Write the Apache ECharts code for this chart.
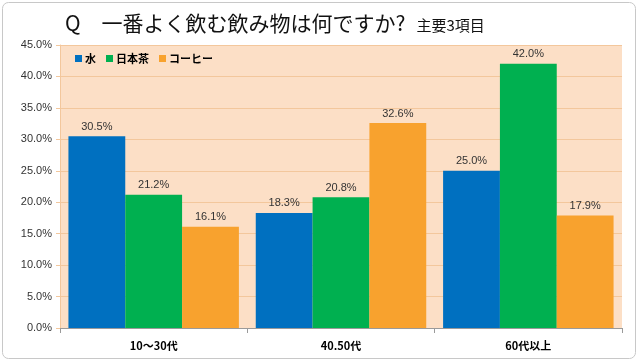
<!DOCTYPE html>
<html><head><meta charset="utf-8">
<script src="https://cdn.jsdelivr.net/npm/echarts@6/dist/echarts.min.js"></script>
<style>html,body{margin:0;padding:0;background:#fff}#c{width:639px;height:362px}</style>
</head><body><div id="c"></div>
<script>
const categories = ['10〜30代', '40.50代', '60代以上'];
const seriesNames = ['水', '日本茶', 'コーヒー'];
const water = [30.5, 18.3, 25.0];
const tea = [21.2, 20.8, 42.0];
const coffee = [16.1, 32.6, 17.9];
const colors = ['#0070C0', '#00B050', '#F8A22E'];

const chart = echarts.init(document.getElementById('c'));
const lbl = {show:true, position:'top', distance:4, color:'#333', fontSize:11, fontFamily:'Liberation Sans, sans-serif', formatter: p => p.value.toFixed(1) + '%'};
chart.setOption({
  animation:false,
  graphic:[{type:'rect', shape:{x:2.5,y:2.5,width:633,height:356,r:6}, style:{fill:'none', stroke:'#c8c8c8', lineWidth:1}, z:-1}],
  title:{
    text:'{a|Q　一番よく飲む飲み物は何ですか?} {b|主要3項目}',
    left:60, top:8,
    textStyle:{rich:{
      a:{fontSize:21, fontWeight:'normal', color:'#111', fontFamily:'Noto Sans CJK JP', verticalAlign:'bottom'},
      b:{fontSize:15, fontWeight:'normal', color:'#111', fontFamily:'Noto Sans CJK JP', verticalAlign:'bottom', padding:[0,0,1,6]}
    }}
  },
  legend:{
    left:70, top:48, itemWidth:7, itemHeight:7, itemGap:10, icon:'rect',
    textStyle:{fontSize:11, fontWeight:'bold', color:'#000', fontFamily:'Noto Sans CJK JP', padding:[0,0,0,-2]},
    data:seriesNames
  },
  grid:{left:60, right:17, top:45, bottom:34, show:true, backgroundColor:'#FCDFC6', borderWidth:0},
  xAxis:{
    type:'category', data:categories,
    axisLine:{lineStyle:{color:'#9a9a9a'}},
    axisTick:{show:true, length:5, lineStyle:{color:'#9a9a9a'}},
    axisLabel:{color:'#000', fontSize:11, fontWeight:'bold', margin:12, fontFamily:'Noto Sans CJK JP'}
  },
  yAxis:{
    type:'value', min:0, max:45, interval:5,
    axisLine:{show:true, lineStyle:{color:'#F3C79C'}},
    axisTick:{show:true, length:4, lineStyle:{color:'#F3C79C'}},
    splitLine:{lineStyle:{color:'#F3C79C', width:1}},
    axisLabel:{color:'#333', fontSize:11, margin:8, fontFamily:'Liberation Sans, sans-serif', formatter: v => v.toFixed(1) + '%'}
  },
  series:[
    {name:seriesNames[0], type:'bar', data:water, itemStyle:{color:colors[0]}, label:lbl, barGap:'0%', barCategoryGap:'9%'},
    {name:seriesNames[1], type:'bar', data:tea, itemStyle:{color:colors[1]}, label:lbl},
    {name:seriesNames[2], type:'bar', data:coffee, itemStyle:{color:colors[2]}, label:lbl}
  ]
});
</script></body></html>
